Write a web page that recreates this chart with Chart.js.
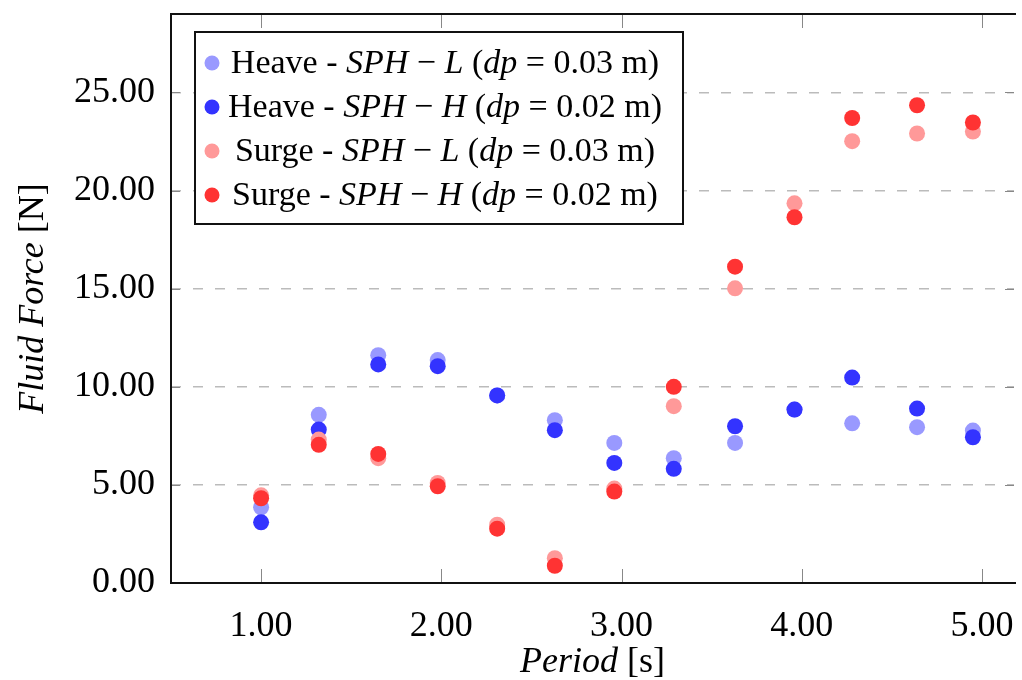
<!DOCTYPE html>
<html>
<head>
<meta charset="utf-8">
<script src="https://cdn.jsdelivr.net/npm/chart.js@4.4.1/dist/chart.umd.min.js"></script>
<style>
  body { margin: 0; background: #fff; overflow: hidden; }
  #wrap { width: 1022px; height: 680px; position: relative; }
</style>
</head>
<body>
<div id="wrap"><canvas id="myChart"></canvas></div>
<script>
// periods [s]
var periods = [1.00, 1.32, 1.65, 1.98, 2.31, 2.63, 2.96, 3.29, 3.63, 3.96, 4.28, 4.64, 4.95];

// fluid force [N]
var heaveL = [3.86, 8.57, 11.61, 11.36, 9.56, 8.30, 7.14, 6.36, 7.14, 8.84, 8.14, 7.94, 7.77];
var heaveH = [3.09, 7.82, 11.14, 11.05, 9.56, 7.79, 6.12, 5.82, 7.99, 8.84, 10.47, 8.89, 7.43];
var surgeL = [4.47, 7.31, 6.36, 5.10, 2.97, 1.26, 4.81, 9.01, 15.02, 19.35, 22.52, 22.91, 23.01];
var surgeH = [4.32, 7.04, 6.58, 4.93, 2.77, 0.88, 4.66, 10.00, 16.12, 18.64, 23.70, 24.35, 23.47];

var xTicks = [1, 2, 3, 4, 5];
var yTicks = [0, 5, 10, 15, 20, 25];

var motion = ["Heave", "Heave", "Surge", "Surge"];
var model = ["L", "H", "L", "H"];
var spacing = ["0.03", "0.02", "0.03", "0.02"];
var colors = ["#9999ff", "#3333ff", "#ff9999", "#ff3333"];
var series = [heaveL, heaveH, surgeL, surgeH];

var FONT = "'Liberation Serif', 'DejaVu Serif', serif";

function pts(ys) {
	return periods.map(function(x, i){ return {x: x, y: ys[i]}; });
}

// draws a row of upright / italic pieces
function richText(ctx, segs, x, y, size, align) {
	var w = 0;
	segs.forEach(function(s){
		ctx.font = (s.i ? "italic " : "") + size + "px " + FONT;
		s.w = ctx.measureText(s.t).width;
		w += s.w;
	});
	var cx = align === "center" ? x - w / 2 : x;
	ctx.textAlign = "left";
	segs.forEach(function(s){
		ctx.font = (s.i ? "italic " : "") + size + "px " + FONT;
		ctx.fillText(s.t, cx, y);
		cx += s.w;
	});
}

var extras = {
	id: "extras",
	afterDraw: function(chart) {
		var ctx = chart.ctx, a = chart.chartArea;
		var xs = chart.scales.x, ys = chart.scales.y;
		ctx.save();

		// tick marks
		ctx.strokeStyle = "#888";
		ctx.lineWidth = 1;
		xTicks.forEach(function(v){
			var px = Math.round(xs.getPixelForValue(v)) + 0.5;
			ctx.beginPath();
			ctx.moveTo(px, a.bottom); ctx.lineTo(px, a.bottom - 14);
			ctx.moveTo(px, a.top); ctx.lineTo(px, a.top + 14);
			ctx.stroke();
		});
		yTicks.forEach(function(v){
			var py = Math.round(ys.getPixelForValue(v)) + 0.5;
			ctx.beginPath();
			ctx.moveTo(a.left, py); ctx.lineTo(a.left + 9, py);
			ctx.moveTo(a.right, py); ctx.lineTo(a.right - 9, py);
			ctx.stroke();
		});

		// frame (right side falls outside the picture)
		ctx.strokeStyle = "#111";
		ctx.lineWidth = 2;
		ctx.beginPath();
		ctx.moveTo(a.right + 2, a.top);
		ctx.lineTo(a.left, a.top);
		ctx.lineTo(a.left, a.bottom);
		ctx.lineTo(a.right + 2, a.bottom);
		ctx.stroke();

		// legend
		var bx = a.left + 24, by = a.top + 18, bw = 488, bh = 192;
		ctx.fillStyle = "#fff";
		ctx.fillRect(bx, by, bw, bh);
		ctx.strokeStyle = "#111";
		ctx.lineWidth = 2;
		ctx.strokeRect(bx, by, bw, bh);
		ctx.textBaseline = "middle";
		for (var i = 0; i < 4; i++) {
			var ry = by + 31 + i * 44;
			ctx.fillStyle = colors[i];
			ctx.beginPath();
			ctx.arc(bx + 17, ry, 7.5, 0, Math.PI * 2);
			ctx.fill();
			ctx.fillStyle = "#000";
			richText(ctx, [
				{t: motion[i] + " - "}, {t: "SPH", i: 1}, {t: " \u2212 "}, {t: model[i], i: 1},
				{t: " ("}, {t: "dp", i: 1}, {t: " = " + spacing[i] + " m)"}
			], bx + 250, ry + 1, 34, "center");
		}

		// axis titles
		ctx.fillStyle = "#000";
		ctx.textBaseline = "alphabetic";
		richText(ctx, [{t: "Period", i: 1}, {t: " [s]"}], (a.left + a.right) / 2, 672, 36, "center");
		ctx.translate(43, (a.top + a.bottom) / 2);
		ctx.rotate(-Math.PI / 2);
		richText(ctx, [{t: "Fluid Force", i: 1}, {t: " [N]"}], 0, 0, 36, "center");

		ctx.restore();
	}
};

var ctx = document.getElementById("myChart").getContext("2d");
var chart = new Chart(ctx, {
	type: "scatter",
	data: {
		datasets: series.map(function(s, i){
			return {
				label: motion[i] + " - SPH - " + model[i] + " (dp = " + spacing[i] + " m)",
				data: pts(s),
				backgroundColor: colors[i],
				borderWidth: 0,
				pointRadius: 8,
				pointHoverRadius: 8,
				order: 4 - i
			};
		})
	},
	options: {
		responsive: true,
		maintainAspectRatio: false,
		animation: false,
		layout: { padding: { top: 14, left: 0, right: 0, bottom: 0 } },
		plugins: { legend: { display: false }, tooltip: { enabled: false } },
		scales: {
			x: {
				type: "linear",
				min: 0.5,
				max: 5.178,
				afterBuildTicks: function(s){ s.ticks = xTicks.map(function(v){ return {value: v}; }); },
				afterFit: function(s){ s.height = 97; s.paddingLeft = 0; s.paddingRight = 0; },
				grid: { display: false },
				border: { display: false },
				ticks: {
					padding: 14,
					color: "#000",
					font: { family: FONT, size: 36 },
					callback: function(v){ return Number(v).toFixed(2); }
				}
			},
			y: {
				min: 0,
				max: 29,
				afterBuildTicks: function(s){ s.ticks = yTicks.map(function(v){ return {value: v}; }); },
				afterFit: function(s){ s.width = 171; s.paddingTop = 0; s.paddingBottom = 0; },
				grid: { color: "#bbbbbb", lineWidth: 1.5, drawTicks: false },
				border: { display: false, dash: [10, 12] },
				ticks: {
					padding: 16,
					color: "#000",
					font: { family: FONT, size: 36 },
					callback: function(v){ return Number(v).toFixed(2); }
				}
			}
		}
	},
	plugins: [extras]
});
</script>
</body>
</html>
